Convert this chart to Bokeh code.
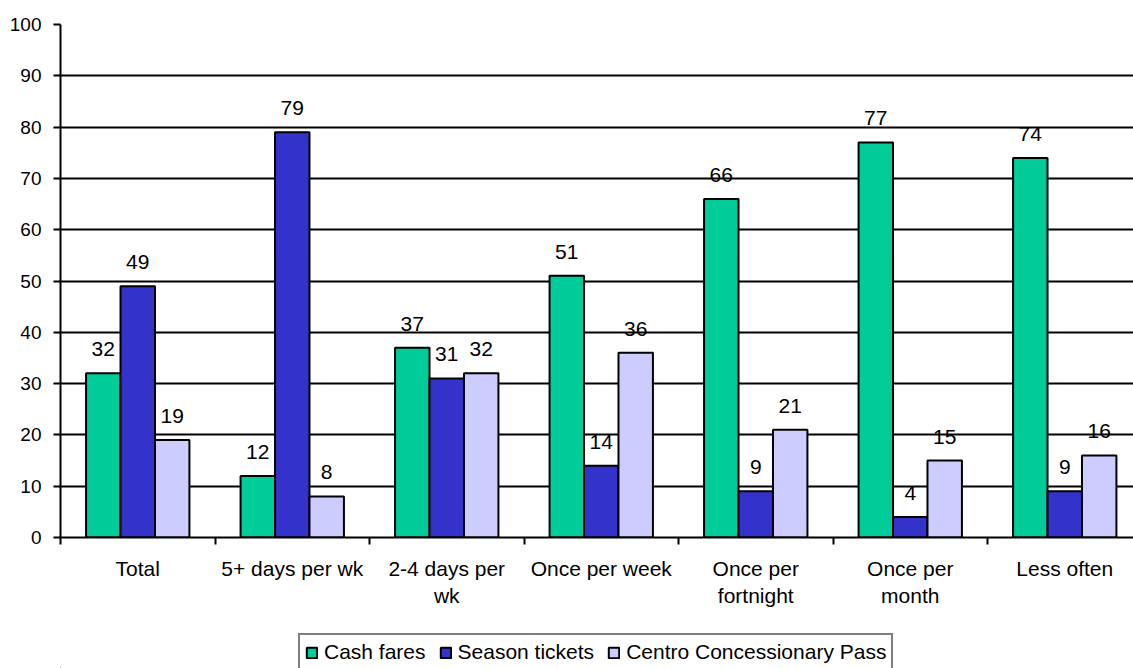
from bokeh.plotting import figure
from bokeh.layouts import column
from bokeh.models import Range1d, FixedTicker, Legend, LegendItem, ColumnDataSource
from bokeh.core.properties import value
from bokeh.embed import file_html
from bokeh.resources import INLINE

categories = ["Total", "5+ days per wk", "2-4 days per\nwk", "Once per week",
              "Once per\nfortnight", "Once per\nmonth", "Less often"]
cash_fares = [32, 12, 37, 51, 66, 77, 74]
season_tickets = [49, 79, 31, 14, 9, 4, 9]
concession_pass = [19, 8, 32, 36, 21, 15, 16]
series_names = ["Cash fares", "Season tickets", "Centro Concessionary Pass"]
series_values = [cash_fares, season_tickets, concession_pass]
series_colors = ["#00CC99", "#3333CC", "#CCCCFF"]
y_ticks = list(range(0, 101, 10))

FONT = "Liberation Sans"
bar_w = 0.223
cat_px = 154.5
x_end = (1133 - 60) / cat_px

p = figure(width=1133, height=620, output_backend="svg", toolbar_location=None,
           x_range=Range1d(0, x_end), y_range=Range1d(0, 100),
           min_border_left=60, min_border_right=0, min_border_top=24,
           min_border_bottom=83)
p.outline_line_color = None
p.background_fill_color = "white"
p.border_fill_color = "white"

centers = [i + 0.5 for i in range(len(categories))]
offsets = [-bar_w, 0, bar_w]

for name, vals, col, off in zip(series_names, series_values, series_colors, offsets):
    xs = [c + off for c in centers]
    src = ColumnDataSource(dict(x=xs, top=vals, label=[str(v) for v in vals]))
    p.vbar(x="x", top="top", width=bar_w, bottom=0, source=src,
           fill_color=col, line_color="black", line_width=2)
    p.text(x="x", y="top", text="label", source=src, text_align="center",
           text_baseline="bottom", y_offset=-17, text_font=value(FONT),
           text_font_size="21px", text_color="black")

# axes
xa = p.xaxis[0]
xa.ticker = FixedTicker(ticks=centers, minor_ticks=list(range(len(categories) + 1)))
xa.major_label_overrides = {c: lab for c, lab in zip(centers, categories)}
xa.major_tick_out = 0
xa.major_tick_in = 0
xa.minor_tick_out = 7
xa.minor_tick_in = 0
xa.minor_tick_line_color = "black"
xa.minor_tick_line_width = 2
xa.axis_line_color = "black"
xa.axis_line_width = 2
xa.major_label_text_font = FONT
xa.major_label_text_font_size = "21px"
xa.major_label_text_color = "black"
xa.major_label_standoff = 12

ya = p.yaxis[0]
ya.ticker = FixedTicker(ticks=y_ticks)
ya.major_tick_out = 7
ya.major_tick_in = 0
ya.minor_tick_out = 0
ya.minor_tick_in = 0
ya.major_tick_line_color = "black"
ya.major_tick_line_width = 2
ya.axis_line_color = "black"
ya.axis_line_width = 2
ya.major_label_text_font = FONT
ya.major_label_text_font_size = "19px"
ya.major_label_text_color = "black"
ya.major_label_standoff = 12

p.xgrid.visible = False
p.ygrid.grid_line_color = "black"
p.ygrid.grid_line_width = 2
p.ygrid.grid_line_alpha = 1

# legend strip below the chart (its frame is aligned with the chart frame)
p2 = figure(width=1133, height=48, output_backend="svg", toolbar_location=None,
            x_range=Range1d(0, 1), y_range=Range1d(0, 1), min_border=0,
            min_border_left=0, min_border_right=0, min_border_top=0,
            min_border_bottom=0, x_axis_type=None, y_axis_type=None)
p2.outline_line_color = None
p2.grid.visible = False
items = []
for name, col in zip(series_names, series_colors):
    r = p2.vbar(x=[-5], top=[0], width=0.1, fill_color=col, line_color="black",
                line_width=2)
    items.append(LegendItem(label=name, renderers=[r]))

legend = Legend(items=items, orientation="horizontal", location=(238, -3),
                border_line_color="black", border_line_width=2,
                label_text_font=FONT, label_text_font_size="21px",
                label_text_color="black", glyph_width=13, glyph_height=13,
                label_standoff=6, spacing=13, padding=5, margin=0,
                label_height=20, background_fill_alpha=1)
p2.add_layout(legend)

layout = column(p, p2, spacing=0)
open("out.html", "w").write(file_html(layout, INLINE))
